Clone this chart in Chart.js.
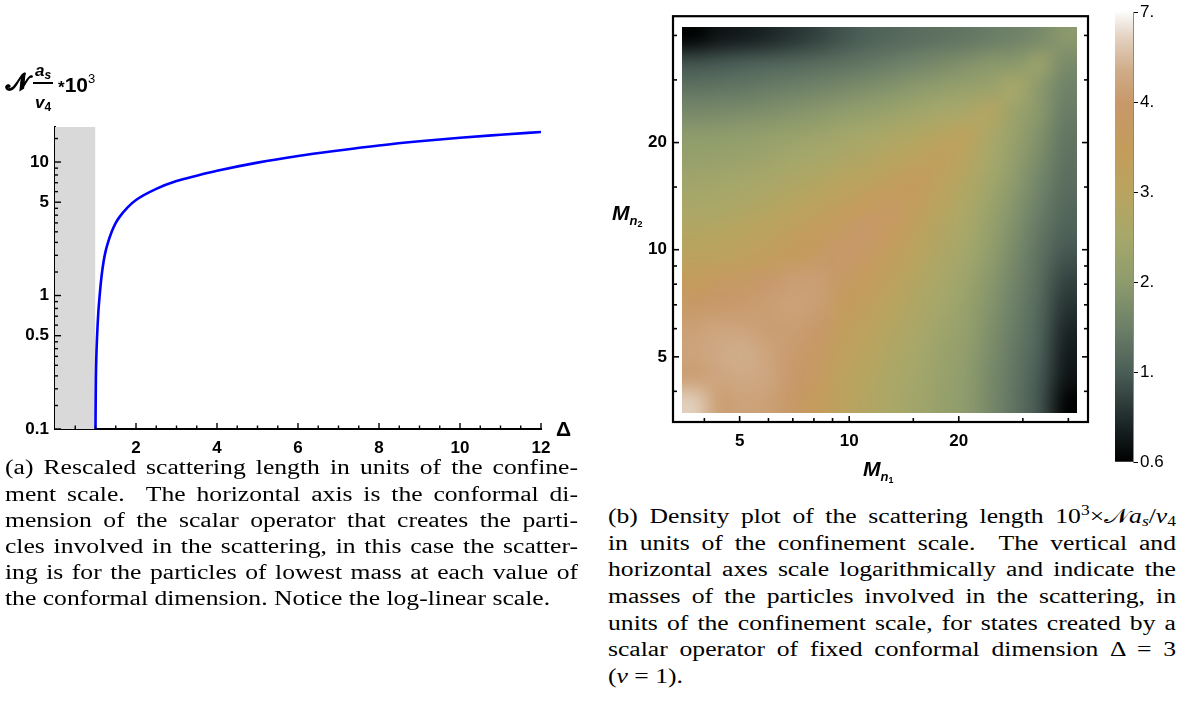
<!DOCTYPE html>
<html><head><meta charset="utf-8">
<script src="https://cdn.jsdelivr.net/npm/chart.js@4"></script>
<style>
html,body{margin:0;padding:0;background:#fff;}
body{width:1181px;height:708px;position:relative;overflow:hidden;font-family:"Liberation Sans",Arial,sans-serif;color:#000;}
.abs{position:absolute;white-space:nowrap;}
canvas{display:block;}
.cap{position:absolute;font-family:"Liberation Serif","Times New Roman",serif;font-size:20.5px;line-height:26px;height:26px;white-space:nowrap;text-align:justify;text-align-last:justify;color:#000;transform-origin:0 50%;}
.cap.last{text-align-last:left;}
.bl{font-weight:bold;}
.bi{font-weight:bold;font-style:italic;}
</style></head><body>

<div class="abs" style="left:0;top:0;"><canvas id="lineChart" width="590" height="460"></canvas></div>
<div class="abs" style="left:600px;top:0;"><canvas id="densityChart" width="500" height="475"></canvas></div>
<div class="abs" style="left:1105px;top:0;"><canvas id="barChart" width="76" height="475"></canvas></div>

<!-- left y-axis label -->
<div class="abs bl" style="left:6px;top:68px;font-size:24px;font-family:'DejaVu Sans',sans-serif;-webkit-text-stroke:0.7px #000;">𝒩</div>
<div class="abs bi" style="left:31px;top:61px;width:24px;text-align:center;font-size:17px;">a<span style="font-size:12px;position:relative;top:3px;">s</span></div>
<div class="abs" style="left:33px;top:82px;width:20px;height:2px;background:#000;"></div>
<div class="abs bi" style="left:31px;top:93px;width:24px;text-align:center;font-size:17px;">v<span style="font-size:12px;font-style:normal;position:relative;top:3px;">4</span></div>
<div class="abs bl" style="left:58px;top:73px;font-size:21px;"><span style="font-size:17px;position:relative;top:1px;">*</span>10<span style="font-size:13px;position:relative;top:-9px;font-weight:normal;">3</span></div>
<div class="abs bl" style="left:556px;top:417px;font-size:21px;">Δ</div>

<!-- right axis labels -->
<div class="abs bi" style="left:863px;top:457px;font-size:21px;">M<span style="font-size:13px;position:relative;top:5px;">n<span style="font-size:9px;font-style:normal;position:relative;top:2px;">1</span></span></div>
<div class="abs bi" style="left:612px;top:201px;font-size:21px;">M<span style="font-size:13px;position:relative;top:5px;">n<span style="font-size:9px;font-style:normal;position:relative;top:2px;">2</span></span></div>

<!-- caption (a) -->
<div class="cap ca" data-w="573" style="left:5px;width:573px;top:454px;">(a) Rescaled scattering length in units of the confine-</div>
<div class="cap ca" data-w="573" style="left:5px;width:573px;top:481px;">ment scale.&nbsp; The horizontal axis is the conformal di-</div>
<div class="cap ca" data-w="573" style="left:5px;width:573px;top:507px;">mension of the scalar operator that creates the parti-</div>
<div class="cap ca" data-w="573" style="left:5px;width:573px;top:533px;">cles involved in the scattering, in this case the scatter-</div>
<div class="cap ca" data-w="573" style="left:5px;width:573px;top:559px;">ing is for the particles of lowest mass at each value of</div>
<div class="cap ca last" data-w="573" style="left:5px;width:573px;top:585px;">the conformal dimension. Notice the log-linear scale.</div>

<!-- caption (b) -->
<div class="cap cb" data-w="568" style="left:608px;width:568px;top:503px;">(b) Density plot of the scattering length 10<span style="font-size:14px;position:relative;top:-8px;">3</span>×<span style="font-family:'DejaVu Serif',serif;">𝒩</span><i>a</i><span style="font-size:14px;position:relative;top:3px;"><i>s</i></span>/<i>v</i><span style="font-size:14px;position:relative;top:3px;">4</span></div>
<div class="cap cb" data-w="568" style="left:608px;width:568px;top:530px;">in units of the confinement scale.&nbsp; The vertical and</div>
<div class="cap cb" data-w="568" style="left:608px;width:568px;top:556px;">horizontal axes scale logarithmically and indicate the</div>
<div class="cap cb" data-w="568" style="left:608px;width:568px;top:583px;">masses of the particles involved in the scattering, in</div>
<div class="cap cb" data-w="568" style="left:608px;width:568px;top:610px;">units of the confinement scale, for states created by a</div>
<div class="cap cb" data-w="568" style="left:608px;width:568px;top:636px;">scalar operator of fixed conformal dimension Δ = 3</div>
<div class="cap cb last" data-w="568" style="left:608px;width:568px;top:663px;">(<i>ν</i> = 1).</div>

<script>
// ---------- (a) scattering length vs conformal dimension ----------
const deltaValues   = [1.0, 1.005, 1.01, 1.02, 1.04, 1.07, 1.1, 1.15, 1.2, 1.25, 1.3, 1.4, 1.5, 1.6, 1.8, 2.0, 2.5, 3.0, 3.5, 4.0, 5.0, 6.0, 7.0, 8.0, 9.0, 10.0, 11.0, 12.0];
const scatterValues = [0.1, 0.17, 0.24, 0.34, 0.5, 0.75, 0.98, 1.4, 1.8, 2.15, 2.45, 3.0, 3.5, 3.9, 4.6, 5.2, 6.3, 7.2, 7.9, 8.6, 9.9, 11.1, 12.2, 13.3, 14.3, 15.2, 16.0, 16.8];
const shadeDelta = [0, 1];
const xAxisRange = [0, 12];
const yAxisRange = [0.1, 18.3];
const xMajorTicks = [2, 4, 6, 8, 10, 12];
const xMinorTicks = [0.5, 1, 1.5, 2.5, 3, 3.5, 4.5, 5, 5.5, 6.5, 7, 7.5, 8.5, 9, 9.5, 10.5, 11, 11.5];
const yMajorTicks = [0.1, 0.5, 1, 5, 10];
const yMinorTicks = [0.15, 0.2, 0.25, 0.3, 0.35, 0.4, 0.45, 0.6, 0.7, 0.8, 0.9, 1.5, 2, 2.5, 3, 3.5, 4, 4.5, 6, 7, 8, 9, 15];

// ---------- (b) density plot ----------
const massCenters = [3.75, 4.39, 5.13, 6.0, 7.01, 8.19, 9.58, 11.2, 13.1, 15.3, 17.9, 20.9, 24.5, 28.6, 33.4, 39.1];
// rows: M_{n2} index (bottom to top); columns: M_{n1} index (left to right)
const densityRows = [
  [6.0, 4.4, 4.6, 4.4, 3.9, 3.5, 3.1, 2.85, 2.6, 2.4, 2.2, 2.0, 1.65, 1.3, 0.95, 0.62],
  [4.4, 4.7, 4.9, 4.7, 4.0, 3.7, 3.15, 2.9, 2.64, 2.43, 2.23, 2.02, 1.67, 1.32, 0.97, 0.70],
  [4.6, 4.9, 5.1, 4.6, 4.1, 3.8, 3.25, 3.0, 2.73, 2.5, 2.28, 2.07, 1.72, 1.36, 1.0, 0.73],
  [4.4, 4.7, 4.6, 4.3, 4.3, 4.0, 3.4, 3.15, 2.85, 2.6, 2.36, 2.14, 1.78, 1.42, 1.06, 0.77],
  [3.9, 4.0, 4.1, 4.3, 4.5, 4.3, 3.57, 3.32, 3.0, 2.71, 2.45, 2.22, 1.85, 1.48, 1.12, 0.83],
  [3.5, 3.7, 3.8, 4.0, 4.3, 4.3, 3.77, 3.52, 3.17, 2.85, 2.56, 2.31, 1.93, 1.56, 1.19, 0.89],
  [3.1, 3.15, 3.25, 3.4, 3.57, 3.77, 4.0, 3.75, 3.36, 3.0, 2.69, 2.42, 2.03, 1.65, 1.27, 0.96],
  [2.85, 2.9, 3.0, 3.15, 3.32, 3.52, 3.75, 4.0, 3.57, 3.17, 2.82, 2.53, 2.14, 1.75, 1.36, 1.04],
  [2.6, 2.64, 2.73, 2.85, 3.0, 3.17, 3.36, 3.57, 3.8, 3.35, 2.97, 2.66, 2.25, 1.85, 1.46, 1.13],
  [2.4, 2.43, 2.5, 2.6, 2.71, 2.85, 3.0, 3.17, 3.35, 3.55, 3.13, 2.8, 2.38, 1.97, 1.57, 1.22],
  [2.2, 2.23, 2.28, 2.36, 2.45, 2.56, 2.69, 2.82, 2.97, 3.13, 3.3, 2.95, 2.51, 2.09, 1.68, 1.30],
  [2.0, 2.02, 2.07, 2.14, 2.22, 2.31, 2.42, 2.53, 2.66, 2.8, 2.95, 3.15, 2.6, 2.2, 1.8, 1.35],
  [1.65, 1.67, 1.72, 1.78, 1.85, 1.93, 2.03, 2.14, 2.25, 2.38, 2.51, 2.6, 2.85, 2.25, 1.93, 1.45],
  [1.3, 1.32, 1.36, 1.42, 1.48, 1.56, 1.65, 1.75, 1.85, 1.97, 2.09, 2.2, 2.25, 2.55, 1.95, 1.55],
  [0.95, 0.97, 1.0, 1.06, 1.12, 1.19, 1.27, 1.36, 1.46, 1.57, 1.68, 1.8, 1.93, 1.95, 2.25, 1.7],
  [0.62, 0.70, 0.73, 0.77, 0.83, 0.89, 0.96, 1.04, 1.13, 1.22, 1.30, 1.35, 1.45, 1.55, 1.7, 1.95]
];
const massAxisRange = [3.28, 45.3];
const massTicks = [4, 5, 6, 7, 8, 9, 10, 15, 20, 30, 40];
const massTickLabels = [5, 10, 20];
const colorbarTicks = [0.6, 1, 2, 3, 4, 7];
const colorbarLabels = ['0.6', '1.', '2.', '3.', '4.', '7.'];

// palette (position along the colour bar, 0..5 = tick index)
const paletteStops = [[0,'#000000'],[0.3,'#131b1c'],[0.6,'#2a3736'],[1,'#4b5e57'],[1.5,'#6d8068'],[2,'#8d9b6c'],[2.5,'#a6a86a'],[3,'#b9a45f'],[3.5,'#c49c5c'],[4,'#c8986a'],[4.35,'#cfac88'],[4.7,'#e2cfbd'],[5,'#fbfbfa']];

function hexRGB(h){return [parseInt(h.slice(1,3),16),parseInt(h.slice(3,5),16),parseInt(h.slice(5,7),16)];}
function valueToPos(v){
  const t = colorbarTicks;
  if (v <= t[0]) return 0;
  for (let k = 0; k < t.length - 1; k++) {
    if (v <= t[k+1]) return k + (v - t[k]) / (t[k+1] - t[k]);
  }
  return t.length - 1;
}
function posToRGB(p){
  for (let k = 0; k < paletteStops.length - 1; k++) {
    const a = paletteStops[k], b = paletteStops[k+1];
    if (p <= b[0]) {
      const f = (p - a[0]) / (b[0] - a[0]);
      const ca = hexRGB(a[1]), cb = hexRGB(b[1]);
      return ca.map((c, i) => Math.round(c + (cb[i] - c) * f));
    }
  }
  return hexRGB(paletteStops[paletteStops.length-1][1]);
}

// widen the caption glyphs (Computer-Modern-like proportions) so justified lines fill the column
function fitCaptions(cls){
  const els = Array.from(document.querySelectorAll('.' + cls));
  let scale = 1.25;
  els.forEach(el => {
    if (el.classList.contains('last')) return;
    el.style.textAlign = 'left'; el.style.textAlignLast = 'left';
    const sp = document.createElement('span');
    while (el.firstChild) sp.appendChild(el.firstChild);
    el.appendChild(sp);
    const w = sp.getBoundingClientRect().width;
    const box = +el.dataset.w;
    scale = Math.min(scale, (box * 0.995) / w);
    el.style.textAlign = ''; el.style.textAlignLast = '';
  });
  scale = Math.max(1, scale);
  els.forEach(el => {
    const box = +el.dataset.w;
    el.style.width = (box / scale).toFixed(2) + 'px';
    el.style.transform = 'scaleX(' + scale.toFixed(4) + ')';
  });
}
fitCaptions('ca'); fitCaptions('cb');

const boldTick = {family: "'Liberation Sans', Arial, sans-serif", size: 17, weight: 'bold'};

// ---------- chart (a) ----------
const innerTicksA = {
  id: 'innerTicksA',
  afterDatasetsDraw(chart){
    const {ctx, chartArea: a, scales: {x, y}} = chart;
    ctx.save(); ctx.strokeStyle = '#000'; ctx.lineWidth = 1.4;
    const seg = (x1,y1,x2,y2)=>{ctx.beginPath();ctx.moveTo(x1,y1);ctx.lineTo(x2,y2);ctx.stroke();};
    xMajorTicks.forEach(v=>{const p=x.getPixelForValue(v); seg(p,a.bottom,p,a.bottom-6);});
    xMinorTicks.forEach(v=>{const p=x.getPixelForValue(v); seg(p,a.bottom,p,a.bottom-3.5);});
    yMajorTicks.forEach(v=>{const p=y.getPixelForValue(v); seg(a.left,p,a.left+6,p);});
    yMinorTicks.forEach(v=>{const p=y.getPixelForValue(v); seg(a.left,p,a.left+3,p);});
    ctx.restore();
  }
};

new Chart(document.getElementById('lineChart'), {
  type: 'line',
  data: {
    datasets: [
      {
        data: deltaValues.map((d, i) => ({x: d, y: scatterValues[i]})),
        borderColor: '#0000ff', borderWidth: 2.6, pointRadius: 0,
        cubicInterpolationMode: 'monotone', fill: false, order: 1
      },
      {
        data: shadeDelta.map(d => ({x: d, y: yAxisRange[1]})),
        borderWidth: 0, borderColor: 'rgba(0,0,0,0)', backgroundColor: '#d9d9d9',
        pointRadius: 0, fill: 'start', order: 2
      }
    ]
  },
  options: {
    responsive: false, animation: false,
    layout: {padding: {top: 127, right: 49, left: 0, bottom: 0}},
    plugins: {legend: {display: false}, tooltip: {enabled: false}},
    scales: {
      x: {
        type: 'linear', min: xAxisRange[0], max: xAxisRange[1],
        grid: {display: false, drawTicks: false},
        border: {display: true, color: '#000', width: 2},
        ticks: {font: boldTick, color: '#000', padding: 9, autoSkip: false, maxRotation: 0, callback: v => String(v)},
        afterBuildTicks: s => { s.ticks = xMajorTicks.map(v => ({value: v})); },
        afterFit: s => { s.height = 31; }
      },
      y: {
        type: 'logarithmic', min: yAxisRange[0], max: yAxisRange[1],
        grid: {display: false, drawTicks: false},
        border: {display: true, color: '#000', width: 2},
        ticks: {font: boldTick, color: '#000', padding: 6, autoSkip: false, callback: v => String(v)},
        afterBuildTicks: s => { s.ticks = yMajorTicks.map(v => ({value: v})); },
        afterFit: s => { s.width = 55; }
      }
    }
  },
  plugins: [innerTicksA]
});

// ---------- chart (b) ----------
const densityLayer = {
  id: 'densityLayer',
  beforeDatasetsDraw(chart){
    const {ctx, scales: {x, y}} = chart;
    const n = massCenters.length;
    const lo = massCenters[0] * Math.sqrt(massCenters[0] / massCenters[1]);
    const hi = massCenters[n-1] * Math.sqrt(massCenters[n-1] / massCenters[n-2]);
    const off = document.createElement('canvas');
    off.width = n + 2; off.height = n + 2;
    const octx = off.getContext('2d');
    const img = octx.createImageData(n + 2, n + 2);
    for (let r = 0; r < n + 2; r++) {
      for (let c = 0; c < n + 2; c++) {
        const i = Math.min(n-1, Math.max(0, c - 1));
        const j = Math.min(n-1, Math.max(0, n - r));
        const rgb = posToRGB(valueToPos(densityRows[j][i]));
        const idx = (r * (n + 2) + c) * 4;
        img.data[idx] = rgb[0]; img.data[idx+1] = rgb[1]; img.data[idx+2] = rgb[2]; img.data[idx+3] = 255;
      }
    }
    octx.putImageData(img, 0, 0);
    const x0 = x.getPixelForValue(lo), x1 = x.getPixelForValue(hi);
    const y0 = y.getPixelForValue(hi), y1 = y.getPixelForValue(lo);
    ctx.save();
    ctx.imageSmoothingEnabled = true; ctx.imageSmoothingQuality = 'high';
    ctx.drawImage(off, 1, 1, n, n, x0, y0, x1 - x0, y1 - y0);
    ctx.restore();
  },
  afterDraw(chart){
    const {ctx, chartArea: a, scales: {x, y}} = chart;
    ctx.save(); ctx.strokeStyle = '#000';
    ctx.lineWidth = 2.2;
    ctx.strokeRect(a.left, a.top, a.right - a.left, a.bottom - a.top);
    ctx.lineWidth = 1.6;
    const seg = (x1,y1,x2,y2)=>{ctx.beginPath();ctx.moveTo(x1,y1);ctx.lineTo(x2,y2);ctx.stroke();};
    massTicks.forEach(v => {
      const L = massTickLabels.includes(v) ? 6 : 4;
      const px = x.getPixelForValue(v), py = y.getPixelForValue(v);
      seg(px, a.bottom, px, a.bottom - L);
      seg(a.left, py, a.left + L, py);
      seg(a.right, py, a.right - L, py);
    });
    ctx.restore();
  }
};

new Chart(document.getElementById('densityChart'), {
  type: 'scatter',
  data: {
    datasets: [{
      data: massCenters.flatMap((m2, j) => massCenters.map((m1, i) => ({x: m1, y: m2, v: densityRows[j][i]}))),
      pointRadius: 0, showLine: false
    }]
  },
  options: {
    responsive: false, animation: false,
    layout: {padding: {top: 6, right: 12, left: 0, bottom: 0}},
    plugins: {legend: {display: false}, tooltip: {enabled: false}},
    scales: {
      x: {
        type: 'logarithmic', min: massAxisRange[0], max: massAxisRange[1],
        grid: {display: false, drawTicks: false}, border: {display: false},
        ticks: {font: boldTick, color: '#000', padding: 9, autoSkip: false, maxRotation: 0,
                callback: v => massTickLabels.includes(v) ? String(v) : ''},
        afterBuildTicks: s => { s.ticks = massTicks.map(v => ({value: v})); },
        afterFit: s => { s.height = 53; }
      },
      y: {
        type: 'logarithmic', min: massAxisRange[0], max: massAxisRange[1],
        grid: {display: false, drawTicks: false}, border: {display: false},
        ticks: {font: boldTick, color: '#000', padding: 6, autoSkip: false,
                callback: v => massTickLabels.includes(v) ? String(v) : ''},
        afterBuildTicks: s => { s.ticks = massTicks.map(v => ({value: v})); },
        afterFit: s => { s.width = 73; }
      }
    }
  },
  plugins: [densityLayer]
});

// ---------- colour bar ----------
new Chart(document.getElementById('barChart'), {
  type: 'bar',
  data: {
    labels: ['bar'],
    datasets: [{
      data: [[0, colorbarTicks.length - 1]],
      borderWidth: 0, barPercentage: 1, categoryPercentage: 1,
      backgroundColor: (c) => {
        const a = c.chart.chartArea;
        if (!a) return '#888';
        const g = c.chart.ctx.createLinearGradient(0, a.bottom, 0, a.top);
        const last = colorbarTicks.length - 1;
        paletteStops.forEach(s => g.addColorStop(s[0] / last, s[1]));
        return g;
      }
    }]
  },
  options: {
    responsive: false, animation: false,
    layout: {padding: {top: 10, bottom: 13, left: 10, right: 0}},
    plugins: {legend: {display: false}, tooltip: {enabled: false}},
    scales: {
      x: {display: false},
      y: {
        position: 'right', min: 0, max: colorbarTicks.length - 1,
        grid: {display: true, drawOnChartArea: false, drawTicks: true, tickLength: 5, color: '#000', lineWidth: 1},
        border: {display: true, color: '#8a8a8a', width: 1},
        ticks: {font: {family: "'Liberation Sans', Arial, sans-serif", size: 17}, color: '#000', padding: 2,
                autoSkip: false, callback: v => colorbarLabels[v]},
        afterBuildTicks: s => { s.ticks = colorbarTicks.map((_, i) => ({value: i})); },
        afterFit: s => { s.width = 48; }
      }
    }
  }
});
</script>
</body></html>
